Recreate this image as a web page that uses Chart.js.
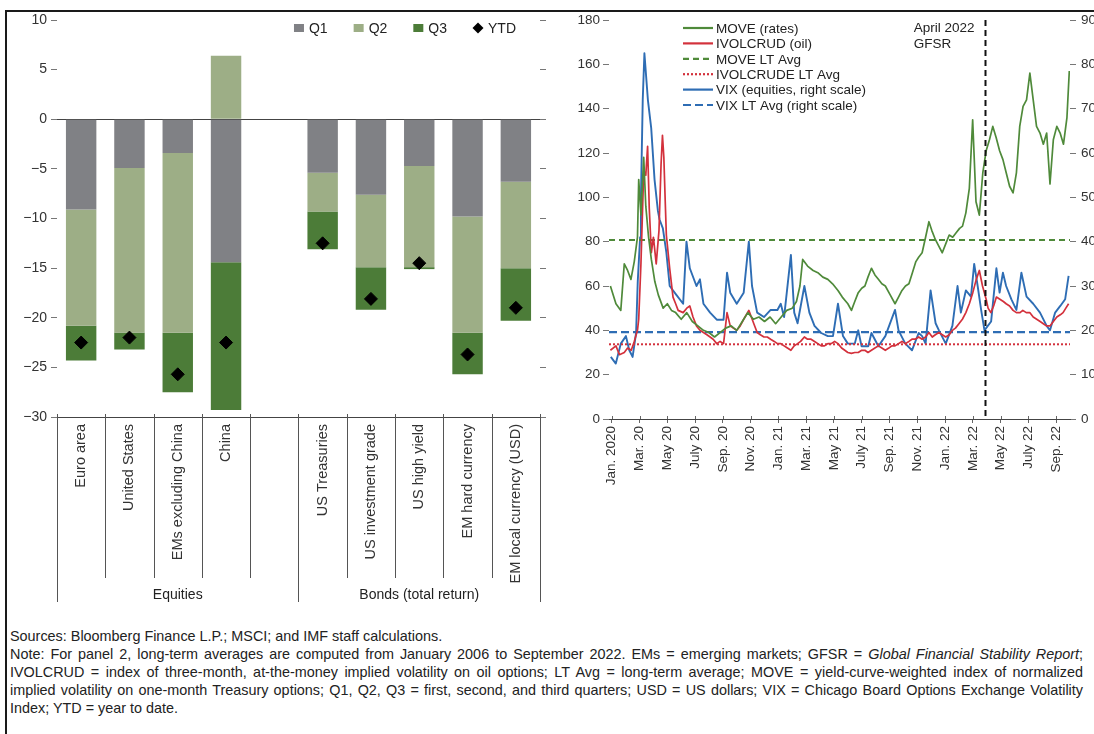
<!DOCTYPE html>
<html>
<head>
<meta charset="utf-8">
<script src="https://cdn.jsdelivr.net/npm/chart.js@4.4.1/dist/chart.umd.min.js"></script>
<style>
  html, body { margin: 0; padding: 0; background: #fff; }
  body { width: 1094px; height: 734px; overflow: hidden; position: relative; font-family: 'Liberation Sans', Arial, sans-serif; color: #222; }
  #frame { position: absolute; left: 5px; top: 10px; width: 1100px; height: 730px; border-top: 2px solid #1a1a1a; border-left: 2px solid #1a1a1a; }
  #left { position: absolute; left: 0; top: 0; width: 560px; height: 615px; }
  #right { position: absolute; left: 545px; top: 0; width: 565px; height: 490px; }
  #notes { position: absolute; left: 10px; top: 627px; width: 1073px; font-size: 14.4px; line-height: 18px; }
  #notes div { white-space: nowrap; }
  #notes .j { text-align: justify; text-align-last: justify; white-space: normal; }
</style>
</head>
<body>
<div id="frame"></div>
<div id="left"><canvas id="returns"></canvas></div>
<div id="right"><canvas id="vol"></canvas></div>
<div id="notes">
  <div>Sources: Bloomberg Finance L.P.; MSCI; and IMF staff calculations.</div>
  <div class="j">Note: For panel 2, long-term averages are computed from January 2006 to September 2022. EMs = emerging markets; GFSR = <i>Global Financial Stability Report</i>;</div>
  <div class="j">IVOLCRUD = index of three-month, at-the-money implied volatility on oil options; LT Avg = long-term average; MOVE = yield-curve-weighted index of normalized</div>
  <div class="j">implied volatility on one-month Treasury options; Q1, Q2, Q3 = first, second, and third quarters; USD = US dollars; VIX = Chicago Board Options Exchange Volatility</div>
  <div>Index; YTD = year to date.</div>
</div>
<script>
// ---- panel 1: returns by quarter (percent)
const categories = ['Euro area', 'United States', 'EMs excluding China', 'China', '',
  'US Treasuries', 'US investment grade', 'US high yield', 'EM hard currency', 'EM local currency (USD)'];
const groups = [
  { label: 'Equities', from: 0, to: 5 },
  { label: 'Bonds (total return)', from: 5, to: 10 }
];
const q1 = [-9.1, -4.9, -3.4, -14.4, null, -5.4, -7.6, -4.7, -9.8, -6.3];
const q2 = [-11.7, -16.6, -18.1, 6.4, null, -3.9, -7.3, -10.2, -11.7, -8.7];
const q3 = [-3.5, -1.7, -6.0, -14.9, null, -3.8, -4.3, -0.2, -4.2, -5.3];
const ytd = [-22.5, -22.0, -25.7, -22.5, null, -12.5, -18.1, -14.5, -23.7, -19.0];

// ---- panel 2: implied volatility (months since Jan. 2020)
const monthTicks = [0, 2, 4, 6, 8, 10, 12, 14, 16, 18, 20, 22, 24, 26, 28, 30, 32];
const monthLabels = ['Jan. 2020', 'Mar. 20', 'May 20', 'July 20', 'Sep. 20', 'Nov. 20', 'Jan. 21', 'Mar. 21',
  'May 21', 'July 21', 'Sep. 21', 'Nov. 21', 'Jan. 22', 'Mar. 22', 'May 22', 'July 22', 'Sep. 22'];
const xMin = -0.2, xMax = 33;
const gfsrMonth = 26.9;

const moveMonths = [-0.1, 0.3, 0.65, 0.9, 1.14, 1.38, 1.62, 1.85, 1.94, 2.1, 2.3, 2.45, 2.65, 2.85, 3.1, 3.35, 3.7, 4.0, 4.3, 4.6,
  5.0, 5.4, 5.8, 6.2, 6.6, 7.0, 7.4, 7.8, 8.2, 8.6, 9.0, 9.4, 9.8, 10.2, 10.6, 11.0, 11.4, 11.8, 12.2, 12.6,
  13.0, 13.3, 13.55, 13.75, 14.1, 14.5, 14.84, 15.2, 15.56, 15.9, 16.29, 16.6, 17.0, 17.26, 17.5, 17.75, 18.0, 18.23, 18.45, 18.7,
  18.95, 19.2, 19.45, 19.7, 20.05, 20.4, 20.65, 20.9, 21.15, 21.4, 21.65, 21.9, 22.1, 22.35, 22.6, 22.84, 23.05, 23.3, 23.55, 23.8,
  24.05, 24.3, 24.55, 24.8, 25.05, 25.26, 25.5, 25.75, 25.99, 26.23, 26.47, 26.72, 26.96, 27.2, 27.44, 27.68, 27.93, 28.17, 28.41, 28.65,
  28.9, 29.14, 29.38, 29.62, 29.87, 30.11, 30.35, 30.59, 30.84, 31.08, 31.32, 31.56, 31.8, 32.05, 32.29, 32.53, 32.78, 32.95];
const moveValues = [60, 52, 49, 70, 67, 63, 71, 82, 108, 92, 118, 96, 82, 72, 62, 56, 50, 52, 49, 48,
  45, 48, 44, 42, 40, 39, 37, 39, 41, 42, 40, 44, 48, 45, 46, 44, 46, 43, 46, 49,
  50, 53, 60, 72, 69, 67, 66, 64, 63, 61, 58, 55, 52, 49, 53, 57, 59, 60, 64, 68,
  65, 63, 61, 60, 56, 52, 55, 58, 60, 61, 66, 71, 73, 75, 82, 89, 85, 81, 78, 75,
  79, 83, 82, 84, 86, 87, 93, 104, 135, 98, 92, 111, 121, 126, 132, 127, 121, 117, 111, 105,
  102, 111, 132, 141, 144, 156, 144, 132, 129, 124, 129, 106, 126, 132, 129, 124, 136, 157];

const oilMonths = [-0.1, 0.3, 0.55, 0.9, 1.14, 1.4, 1.62, 1.85, 1.94, 2.1, 2.3, 2.45, 2.58, 2.7, 2.85, 3.0, 3.2, 3.4, 3.55, 3.65,
  3.75, 3.85, 3.93, 4.17, 4.41, 4.6, 4.78, 5.14, 5.4, 5.62, 5.85, 6.1, 6.35, 6.6, 6.85, 7.08, 7.3, 7.56, 7.8, 8.05,
  8.3, 8.53, 8.75, 9.0, 9.25, 9.5, 9.87, 10.05, 10.23, 10.47, 10.7, 10.96, 11.2, 11.44, 11.7, 11.93, 12.17, 12.41, 12.65, 12.9,
  13.14, 13.38, 13.6, 13.87, 14.1, 14.35, 14.6, 14.84, 15.08, 15.32, 15.56, 15.8, 16.05, 16.29, 16.55, 16.78, 17.0, 17.26, 17.5, 17.75,
  18.0, 18.23, 18.45, 18.7, 18.95, 19.2, 19.45, 19.7, 19.95, 20.17, 20.4, 20.65, 20.9, 21.14, 21.4, 21.62, 21.85, 22.1, 22.35, 22.6,
  22.84, 23.08, 23.3, 23.56, 23.8, 24.05, 24.3, 24.53, 24.75, 25.0, 25.25, 25.5, 25.75, 26.0, 26.25, 26.47, 26.7, 26.96, 27.1, 27.3,
  27.5, 27.7, 27.95, 28.2, 28.4, 28.65, 28.9, 29.14, 29.4, 29.6, 29.85, 30.1, 30.35, 30.6, 30.85, 31.08, 31.3, 31.56, 31.8, 32.05,
  32.3, 32.5, 32.7, 32.9];
const oilValues = [31, 33, 29, 30, 32, 31, 35, 40, 45, 70, 112, 110, 123, 95, 75, 82, 70, 85, 115, 128,
  118, 98, 83, 68, 55, 52, 49, 48, 50, 51, 46, 42, 40, 39, 38, 37, 36, 34, 35, 34,
  48, 42, 41, 40, 42, 45, 49, 46, 43, 39, 38, 37, 37, 36, 35, 34, 34, 33, 32, 31,
  33, 34, 35, 37, 36, 36, 35, 34, 33, 33, 34, 34, 35, 34, 32, 31, 30, 29.6, 30, 30,
  31, 31, 30, 31, 32, 33, 32, 31, 32, 33, 33, 34, 35, 34, 35, 36, 36, 37, 36, 37,
  39, 37, 38, 39, 38, 37, 38, 40, 41, 43, 45, 48, 52, 57, 63, 67, 60, 54, 50, 48,
  51, 55, 54, 53, 52, 51, 49, 48, 48, 49, 48, 48, 46, 45, 44, 43, 42, 42, 44, 46,
  47, 48, 50, 52];

const vixMonths = [-0.07, 0.29, 0.65, 1.02, 1.26, 1.5, 1.75, 1.87, 2.04, 2.1, 2.23, 2.35, 2.6, 2.84, 3.08, 3.32, 3.44, 3.68, 3.93, 4.17,
  4.65, 5.14, 5.38, 5.62, 6.1, 6.35, 6.6, 7.08, 7.56, 8.05, 8.3, 8.53, 9.0, 9.5, 9.87, 10.1, 10.47, 10.96, 11.44, 11.93,
  12.17, 12.41, 12.9, 13.14, 13.38, 13.87, 14.23, 14.6, 15.08, 15.56, 15.93, 16.29, 16.65, 17.0, 17.5, 17.75, 17.99, 18.47, 18.7, 19.2,
  19.7, 20.4, 20.65, 21.14, 21.62, 22.1, 22.35, 22.6, 22.96, 23.32, 23.56, 24.05, 24.53, 24.9, 25.14, 25.5, 25.87, 26.1, 26.35, 26.6,
  26.84, 27.08, 27.32, 27.7, 27.93, 28.17, 28.4, 28.78, 29.14, 29.5, 29.87, 30.35, 30.84, 31.32, 31.56, 31.93, 32.3, 32.65, 32.9];
const vixValues = [14, 12.5, 17, 18.7, 15.5, 14, 19.4, 31, 41, 50, 72, 82.5, 72, 65.6, 54, 47, 45, 43, 37.6, 30,
  28, 26, 40, 34, 30, 31.5, 26, 24, 22.4, 22.4, 33, 28.5, 26, 28.5, 40, 30, 24, 23, 24.6, 24.6,
  26, 23, 37, 24, 21.6, 30, 24, 21, 19.4, 18.7, 18.7, 26, 18.7, 17, 17, 20, 16.4, 16.4, 19.4, 16.4,
  18.7, 24.6, 20, 17, 15.5, 19.4, 18.7, 17, 29, 21.6, 20, 17, 21, 30, 24, 29, 27.6, 35, 30, 24.6,
  20, 21, 22, 34, 28.5, 33, 30, 27, 24.6, 33, 27.6, 26, 24, 21, 20, 24, 25.5, 27, 32.3];

const moveAvg = 80.8, oilAvg = 33.7, vixAvg = 19.6;

const FONT = "'Liberation Sans', Arial, sans-serif";
Chart.defaults.font.family = FONT;
Chart.defaults.font.size = 13.5;
Chart.defaults.color = '#333';

const minus = v => (v < 0 ? '\u2212' + Math.abs(v) : String(v));
const pts = (xs, ys) => xs.map((m, i) => ({ x: m, y: ys[i] }));
const flat = v => [{ x: xMin, y: v }, { x: xMax, y: v }];

// category dividers + group labels under the bar chart
const catDividers = {
  id: 'catDividers',
  afterDraw(chart) {
    const { ctx, chartArea, scales: { x } } = chart;
    const w = x.getPixelForValue(1) - x.getPixelForValue(0);
    const x0 = x.getPixelForValue(0) - w / 2;
    ctx.save();
    ctx.strokeStyle = '#555';
    ctx.lineWidth = 1;
    for (let i = 0; i <= categories.length; i++) {
      const px = Math.round(x0 + i * w) + 0.5;
      const outer = groups.some(g => g.from === i || g.to === i);
      ctx.beginPath();
      ctx.moveTo(px, chartArea.bottom - 3);
      ctx.lineTo(px, chartArea.bottom + (outer ? 185 : 161));
      ctx.stroke();
    }
    ctx.fillStyle = '#222';
    ctx.font = '14px ' + FONT;
    ctx.textAlign = 'center';
    ctx.textBaseline = 'middle';
    groups.forEach(g => ctx.fillText(g.label, x0 + (g.from + g.to) / 2 * w, chartArea.bottom + 178));
    ctx.restore();
  }
};

// horizontal legend inside the bar chart area
const barLegend = {
  id: 'barLegend',
  afterDraw(chart) {
    const { ctx, chartArea } = chart;
    ctx.save();
    ctx.font = '14px ' + FONT;
    ctx.textBaseline = 'middle';
    const items = chart.data.datasets.map(d => ({ text: d.label, color: d.backgroundColor, diamond: d.type === 'line' }));
    const widths = items.map(it => 15 + ctx.measureText(it.text).width);
    const total = widths.reduce((a, b) => a + b, 0) + 26 * (items.length - 1);
    let px = chartArea.right - 24 - total;
    const py = chartArea.top + 8;
    items.forEach((it, i) => {
      ctx.fillStyle = it.color;
      if (it.diamond) {
        ctx.beginPath();
        ctx.moveTo(px + 5, py - 5.5); ctx.lineTo(px + 10.5, py); ctx.lineTo(px + 5, py + 5.5); ctx.lineTo(px - 0.5, py);
        ctx.closePath(); ctx.fill();
      } else {
        ctx.fillRect(px, py - 4, 10, 8);
      }
      ctx.fillStyle = '#222';
      ctx.fillText(it.text, px + 15, py + 1);
      px += widths[i] + 26;
    });
    ctx.restore();
  }
};

new Chart(document.getElementById('returns'), {
  data: {
    labels: categories,
    datasets: [
      { type: 'bar', label: 'Q1', data: q1, backgroundColor: '#808185', stack: 'q', order: 1 },
      { type: 'bar', label: 'Q2', data: q2, backgroundColor: '#9dae86', stack: 'q', order: 1 },
      { type: 'bar', label: 'Q3', data: q3, backgroundColor: '#4c7c38', stack: 'q', order: 1 },
      { type: 'line', label: 'YTD', data: ytd, backgroundColor: '#000', borderColor: '#000', showLine: false,
        pointStyle: 'rectRot', pointRadius: 6.5, stack: 'ytd', order: 0 }
    ]
  },
  options: {
    responsive: true,
    maintainAspectRatio: false,
    animation: false,
    devicePixelRatio: 1,
    events: [],
    layout: { padding: { top: 20, right: 0, bottom: 0, left: 0 } },
    datasets: { bar: { barPercentage: 0.63, categoryPercentage: 1 } },
    plugins: { legend: { display: false }, tooltip: { enabled: false } },
    scales: {
      x: {
        stacked: true,
        grid: { display: true, drawOnChartArea: false, drawTicks: false },
        border: { display: true, color: '#444', width: 1 },
        ticks: { autoSkip: false, minRotation: 90, maxRotation: 90, padding: 7, color: '#333', font: { size: 14.5 } },
        afterFit: s => { s.height = 198; }
      },
      y: {
        stacked: true,
        min: -30, max: 10,
        ticks: { stepSize: 5, padding: 4, callback: v => minus(v), color: '#333', font: { size: 14 } },
        grid: { color: c => (c.tick && c.tick.value === 0 ? '#444' : 'rgba(0,0,0,0)'), tickColor: '#777', tickLength: 6, lineWidth: 1 },
        border: { display: false },
        afterFit: s => { s.width = 57; }
      },
      y2: {
        position: 'right',
        min: -30, max: 10,
        ticks: { stepSize: 5, callback: () => '' },
        grid: { drawOnChartArea: false, tickColor: '#777', tickLength: 6 },
        border: { display: false },
        afterFit: s => { s.width = 20; }
      }
    }
  },
  plugins: [catDividers, barLegend]
});

// line legend, GFSR marker and crossing x ticks for the volatility chart
const volDecor = {
  id: 'volDecor',
  afterDatasetsDraw(chart) {
    const { ctx, chartArea, scales: { x } } = chart;
    ctx.save();
    ctx.strokeStyle = '#666';
    ctx.lineWidth = 1;
    monthTicks.forEach(m => {
      const tx = Math.round(x.getPixelForValue(m)) + 0.5;
      ctx.beginPath();
      ctx.moveTo(tx, chartArea.bottom - 3);
      ctx.lineTo(tx, chartArea.bottom);
      ctx.stroke();
    });
    // April 2022 GFSR vertical line
    const gx = Math.round(x.getPixelForValue(gfsrMonth)) + 0.5;
    ctx.strokeStyle = '#111';
    ctx.lineWidth = 2;
    ctx.setLineDash([6, 4]);
    ctx.beginPath();
    ctx.moveTo(gx, chartArea.top);
    ctx.lineTo(gx, chartArea.bottom);
    ctx.stroke();
    ctx.setLineDash([]);
    ctx.font = '13.5px ' + FONT;
    ctx.fillStyle = '#222';
    ctx.textBaseline = 'middle';
    const tw = ctx.measureText('April 2022').width;
    ctx.fillText('April 2022', gx - 11 - tw, chartArea.top + 8);
    ctx.fillText('GFSR', gx - 11 - tw, chartArea.top + 24);
    // legend
    const lx = chartArea.left + 74;
    let ly = chartArea.top + 8;
    chart.data.datasets.forEach(d => {
      ctx.strokeStyle = d.borderColor;
      ctx.lineWidth = 2.2;
      ctx.setLineDash(d.borderDash || []);
      ctx.beginPath();
      ctx.moveTo(lx, ly);
      ctx.lineTo(lx + 30, ly);
      ctx.stroke();
      ctx.setLineDash([]);
      ctx.fillStyle = '#222';
      ctx.fillText(d.label, lx + 33, ly + 1);
      ly += 15.4;
    });
    ctx.restore();
  }
};

const GREEN = '#4f8a3a', RED = '#d3313c', BLUE = '#2e6db4';

new Chart(document.getElementById('vol'), {
  type: 'line',
  data: {
    datasets: [
      { label: 'MOVE (rates)', data: pts(moveMonths, moveValues), borderColor: GREEN, borderWidth: 1.7, yAxisID: 'y' },
      { label: 'IVOLCRUD (oil)', data: pts(oilMonths, oilValues), borderColor: RED, borderWidth: 1.7, yAxisID: 'y' },
      { label: 'MOVE LT Avg', data: flat(moveAvg), borderColor: GREEN, borderWidth: 2, borderDash: [6, 4], yAxisID: 'y' },
      { label: 'IVOLCRUDE LT Avg', data: flat(oilAvg), borderColor: RED, borderWidth: 2, borderDash: [2, 2], yAxisID: 'y' },
      { label: 'VIX (equities, right scale)', data: pts(vixMonths, vixValues), borderColor: BLUE, borderWidth: 1.9, yAxisID: 'y1' },
      { label: 'VIX LT Avg (right scale)', data: flat(vixAvg), borderColor: BLUE, borderWidth: 2.2, borderDash: [8, 4], yAxisID: 'y1' }
    ]
  },
  options: {
    responsive: true,
    maintainAspectRatio: false,
    animation: false,
    devicePixelRatio: 1,
    events: [],
    layout: { padding: { top: 20, right: 0, bottom: 0, left: 0 } },
    elements: { point: { radius: 0 }, line: { tension: 0, borderJoinStyle: 'round' } },
    plugins: { legend: { display: false }, tooltip: { enabled: false } },
    scales: {
      x: {
        type: 'linear',
        min: xMin, max: xMax,
        afterBuildTicks: s => { s.ticks = monthTicks.map(v => ({ value: v })); },
        ticks: { autoSkip: false, minRotation: 90, maxRotation: 90, padding: 3, color: '#333',
          callback: v => monthLabels[monthTicks.indexOf(v)] },
        grid: { drawOnChartArea: false, tickLength: 4, tickColor: '#666' },
        border: { display: true, color: '#444' },
        afterFit: s => { s.height = 71; }
      },
      y: {
        position: 'left',
        min: 0, max: 180,
        ticks: { stepSize: 20, padding: 3, color: '#333' },
        grid: { drawOnChartArea: false, tickLength: 6, tickColor: '#777' },
        border: { display: false },
        afterFit: s => { s.width = 64; }
      },
      y1: {
        position: 'right',
        min: 0, max: 90,
        ticks: { stepSize: 10, padding: 5, color: '#333' },
        grid: { drawOnChartArea: false, tickLength: 6, tickColor: '#777' },
        border: { display: false },
        afterFit: s => { s.width = 40; }
      }
    }
  },
  plugins: [volDecor]
});
</script>
</body>
</html>
